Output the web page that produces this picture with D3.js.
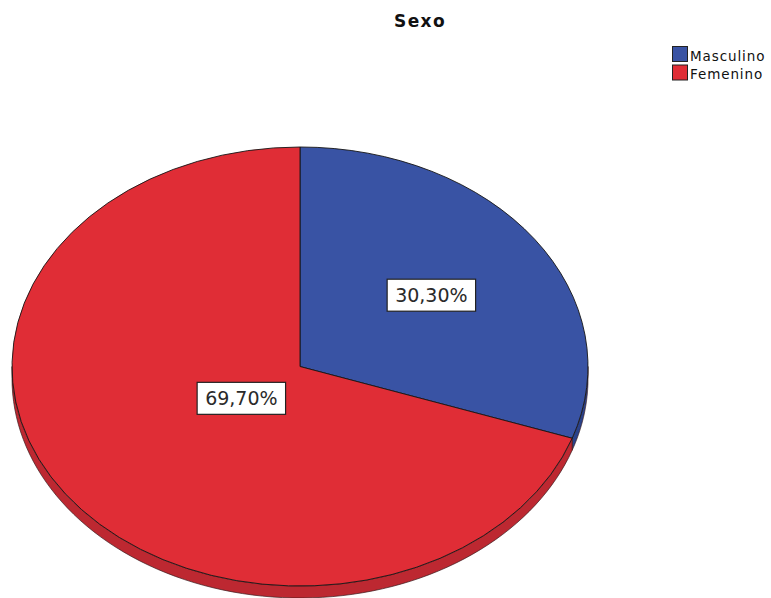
<!DOCTYPE html>
<html>
<head>
<meta charset="utf-8">
<script src="https://cdn.jsdelivr.net/npm/d3@7"></script>
<style>
  html, body { margin: 0; padding: 0; background: #fff; }
  svg { display: block; }
</style>
</head>
<body>
<svg id="chart" width="771" height="598"></svg>
<script>
// Data
const title = "Sexo";
const categories = ["Masculino", "Femenino"];
const percents = [30.30, 69.70];
const valueLabels = ["30,30%", "69,70%"];

// Styles
const topColors = ["#3953a4", "#e02d36"];
const sideColors = ["#2a428a", "#bd2831"];

const W = 771, H = 598;
const cx = 300, cy = 366.5, rx = 288, ry = 219.5, depth = 12;
const labelRadius = [0.56, 0.25];

const svg = d3.select("#chart");

const pie = d3.pie().sort(null).value(d => d.v);
const slices = pie(categories.map((c, i) => ({ c, v: percents[i], i })));

const g = svg.append("g");

// Point on ellipse for d3 angle convention (0 at top, clockwise)
const pt = (a, dy = 0) => [cx + rx * Math.sin(a), cy - ry * Math.cos(a) + dy];

// Side walls (front half only)
slices.forEach(s => {
  const a0 = Math.max(s.startAngle, Math.PI / 2);
  const a1 = Math.min(s.endAngle, 3 * Math.PI / 2);
  if (a1 <= a0) return;
  const n = 80;
  const top = d3.range(n + 1).map(k => pt(a0 + (a1 - a0) * k / n));
  const bot = top.map(([x, y]) => [x, y + depth]).reverse();
  g.append("path")
    .attr("d", d3.line()(top.concat(bot)) + "Z")
    .attr("fill", sideColors[s.data.i])
    .attr("stroke", "#3a1a1c")
    .attr("stroke-width", 0.7)
    .attr("stroke-linejoin", "round");
});

// Top faces: circular arcs squashed into an ellipse
const arc = d3.arc().innerRadius(0).outerRadius(rx);
const topG = g.append("g")
  .attr("transform", `translate(${cx},${cy}) scale(1,${ry / rx})`);
topG.selectAll("path.slice")
  .data(slices)
  .join("path")
  .attr("class", "slice")
  .attr("d", arc)
  .attr("fill", d => topColors[d.data.i])
  .attr("stroke", "#151515")
  .attr("stroke-width", 0.9)
  .attr("vector-effect", "non-scaling-stroke")
  .attr("stroke-linejoin", "round");

// Value labels in boxes
slices.forEach(s => {
  const mid = (s.startAngle + s.endAngle) / 2;
  const f = labelRadius[s.data.i];
  const x = cx + rx * f * Math.sin(mid);
  const y = cy - ry * f * Math.cos(mid);
  const lg = g.append("g").attr("transform", `translate(${x},${y})`);
  const rect = lg.append("rect").attr("fill", "#fff").attr("stroke", "#222").attr("stroke-width", 1.2);
  const t = lg.append("text")
    .attr("text-anchor", "middle")
    .attr("dominant-baseline", "central")
    .attr("font-family", "DejaVu Sans, sans-serif")
    .attr("font-size", 19)
    .attr("fill", "#2a2a2a")
    .text(valueLabels[s.data.i]);
  const bb = t.node().getBBox();
  const w = bb.width + 16, h = 32;
  rect.attr("x", -w / 2).attr("y", -h / 2).attr("width", w).attr("height", h);
});

// Title
svg.append("text")
  .attr("x", 420).attr("y", 27)
  .attr("text-anchor", "middle")
  .attr("font-family", "DejaVu Sans, sans-serif")
  .attr("font-weight", "bold")
  .attr("font-size", 17)
  .attr("letter-spacing", 1.4)
  .attr("fill", "#111")
  .text(title);

// Legend
const legend = svg.append("g").attr("transform", "translate(672,46)");
categories.forEach((c, i) => {
  const row = legend.append("g").attr("transform", `translate(0,${i * 18.5})`);
  row.append("rect")
    .attr("x", 0.5).attr("y", 0.5).attr("width", 15).attr("height", 15)
    .attr("fill", topColors[i]).attr("stroke", "#222").attr("stroke-width", 1);
  row.append("text")
    .attr("x", 18).attr("y", 14.5)
    .attr("font-family", "DejaVu Sans, sans-serif")
    .attr("font-size", 13.5)
    .attr("letter-spacing", 0.9)
    .attr("fill", "#111")
    .text(c);
});
</script>
</body>
</html>
